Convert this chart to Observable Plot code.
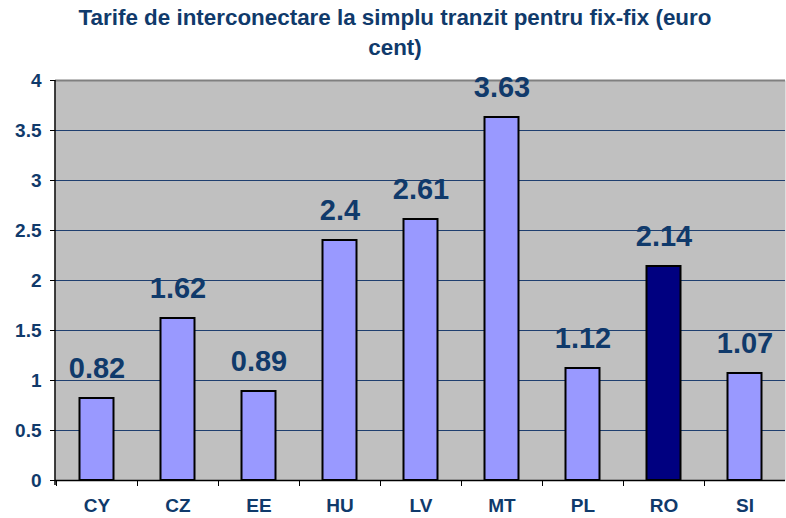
<!DOCTYPE html>
<html>
<head>
<meta charset="utf-8">
<script src="https://cdn.jsdelivr.net/npm/d3@7"></script>
<script src="https://cdn.jsdelivr.net/npm/@observablehq/plot@0.6"></script>
<style>
  html, body { margin: 0; padding: 0; background: #fff; }
  #wrap { position: relative; width: 786px; height: 518px; font-family: "Liberation Sans", Arial, sans-serif; }
  #title { position: absolute; left: 2px; top: 3px; width: 786px; text-align: center; font-weight: bold; font-size: 22.4px; line-height: 30px; color: #103a6b; }
  #chart { position: absolute; left: 0; top: 0; }
</style>
</head>
<body>
<div id="wrap">
  <div id="chart"></div>
  <div id="title">Tarife de interconectare la simplu tranzit pentru fix-fix (euro<br>cent)</div>
</div>
<script>
const categories = ["CY", "CZ", "EE", "HU", "LV", "MT", "PL", "RO", "SI"];
const values = [0.82, 1.62, 0.89, 2.4, 2.61, 3.63, 1.12, 2.14, 1.07];
const highlighted = ["RO"];
const yTicks = [0, 0.5, 1, 1.5, 2, 2.5, 3, 3.5, 4];
const gridTicks = [0.5, 1, 1.5, 2, 2.5, 3, 3.5];

const data = categories.map((c, i) => ({cat: c, value: values[i]}));
const textColor = "#103a6b";

function axisDecor(index, scales, vals, dims) {
  const g = d3.create("svg:g");
  const x0 = dims.marginLeft;
  const yTop = dims.marginTop;
  const yBot = dims.height - dims.marginBottom;
  g.append("line").attr("x1", x0).attr("x2", x0).attr("y1", yTop).attr("y2", yBot + 5)
    .attr("stroke", "#000").attr("stroke-width", 1.5);
  for (const c of categories) {
    const x = scales.x(c) + 0.5;
    g.append("line").attr("x1", x).attr("x2", x).attr("y1", yBot).attr("y2", yBot + 6)
      .attr("stroke", "#000").attr("stroke-width", 1);
  }
  return g.node();
}

const chart = Plot.plot({
  width: 786,
  height: 518,
  marginTop: 80,
  marginBottom: 38,
  marginLeft: 55,
  marginRight: 1,
  style: {fontFamily: "'Liberation Sans', Arial, sans-serif", background: "transparent"},
  x: {domain: categories, padding: 0, label: null},
  y: {domain: [0, 4], label: null},
  marks: [
    Plot.frame({fill: "#C0C0C0", stroke: null}),
    Plot.gridY(gridTicks, {stroke: "#1f3f6f", strokeOpacity: 1, strokeWidth: 1}),
    Plot.ruleY([4], {stroke: "#808080", strokeWidth: 2}),
    Plot.barY(data, {
      x: "cat", y: "value",
      fill: d => highlighted.includes(d.cat) ? "#000080" : "#9999FF",
      stroke: "#000", strokeWidth: 2,
      insetLeft: 23.5, insetRight: 23.5
    }),
    Plot.ruleY([0], {stroke: "#000", strokeWidth: 1.5}),
    Plot.text(data, {
      x: "cat", y: "value", text: d => String(d.value),
      dy: -30, fontSize: 29, fontWeight: "bold", fill: textColor
    }),
    Plot.axisY(yTicks, {tickSize: 5, tickPadding: 9, tickFormat: d => String(d), fontSize: 19, fontWeight: "bold", fill: textColor, stroke: "#000", label: null}),
    Plot.axisX({tickSize: 0, tickPadding: 18, fontSize: 19, fontWeight: "bold", fill: textColor, label: null}),
    axisDecor
  ]
});
document.getElementById("chart").appendChild(chart);
</script>
</body>
</html>
